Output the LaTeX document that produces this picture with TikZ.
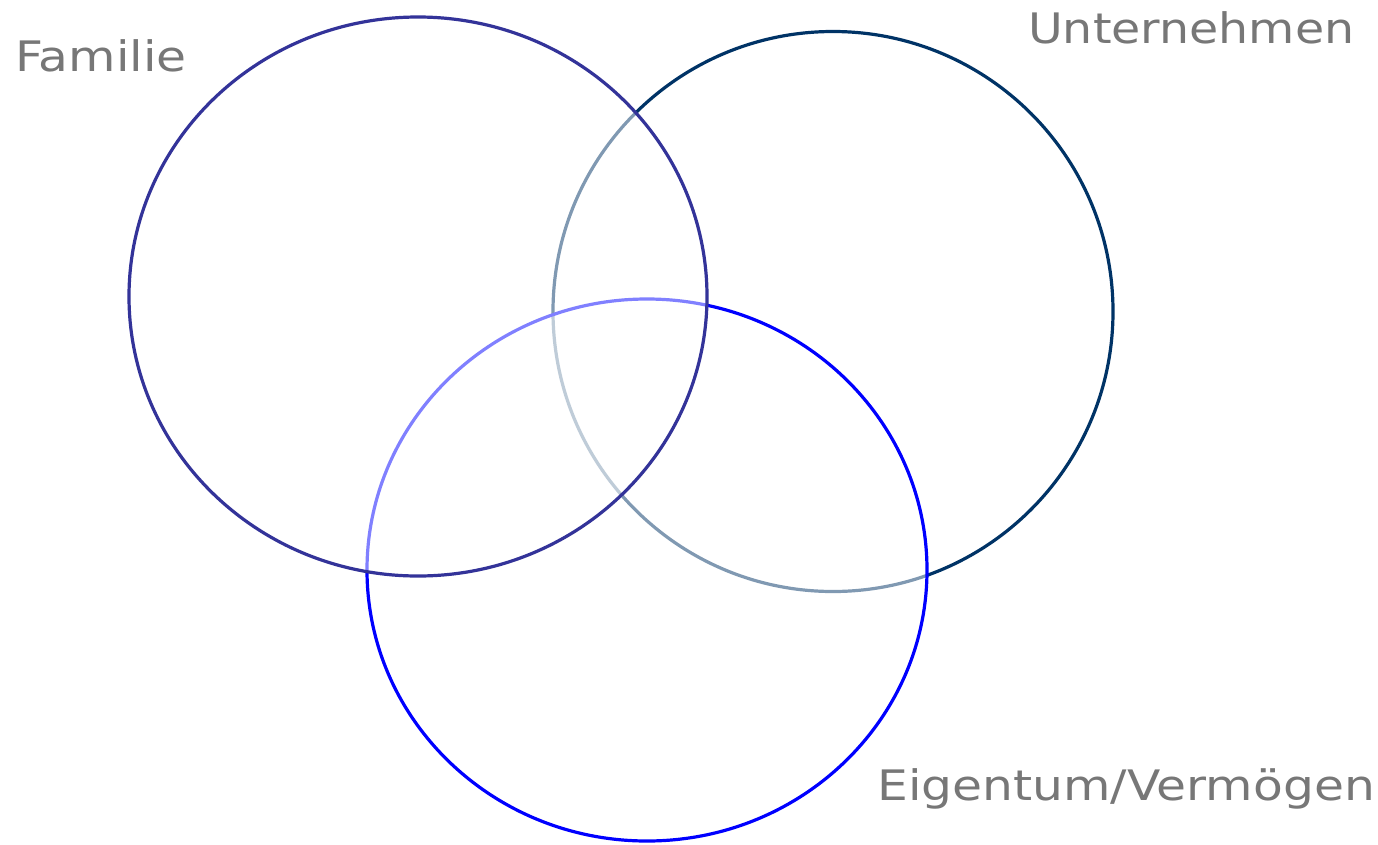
\documentclass[tikz,border=0pt]{standalone}
\usepackage{fontspec}
\setmainfont{DejaVu Sans}
\usepackage{graphicx}
\definecolor{famc}{HTML}{333399}
\definecolor{untc}{HTML}{003366}
\definecolor{eigc}{HTML}{0000FF}
\definecolor{labc}{HTML}{777777}
\begin{document}
\begin{tikzpicture}[x=1pt,y=-1pt,
  ring/.style={line width=3.2pt, fill=white, fill opacity=0.5, draw opacity=1},
  lab/.style={anchor=base west, inner sep=0pt, text=labc, font=\fontsize{42}{50}\selectfont}]
\useasboundingbox (0,0) rectangle (1378,844);
% order: Unternehmen (bottom), Eigentum, Familie (top)
\path[ring, draw=untc] (833,311.5) ellipse [x radius=280pt, y radius=280pt];
\path[ring, draw=eigc] (647,570) ellipse [x radius=280pt, y radius=271pt];
\path[ring, draw=famc] (418,296.5) ellipse [x radius=289pt, y radius=279.5pt];
\node[lab] (familie) at (15,71) {\scalebox{1.16}[1]{Familie}};
\node[lab] (unternehmen) at (1028,43) {\scalebox{1.13}[1]{Unternehmen}};
\node[lab] (eigentum) at (877,800) {\scalebox{1.16}[1]{Eigentum/Vermögen}};
\end{tikzpicture}
\end{document}
